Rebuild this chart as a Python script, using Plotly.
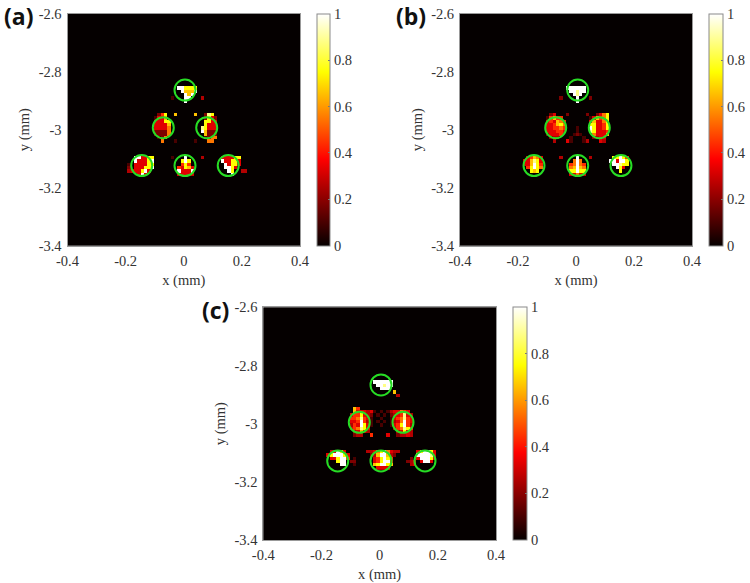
import numpy as np
import plotly.graph_objects as go

W, H = 750, 583
N = 70
ROW0 = 17

hot = [[0, "#050000"], [0.375, "#ff0000"], [0.75, "#ffff00"], [1, "#ffffff"]]
LEVELS = {".": 0, "1": .1, "2": .18, "3": .26, "4": .33, "5": .44, "6": .55, "7": .66, "8": .75, "9": .88, "W": 1}

ticks_x = [-0.4, -0.2, 0, 0.2, 0.4]
ticktext_x = ["-0.4", "-0.2", "0", "0.2", "0.4"]
ticks_y = [-3.4, -3.2, -3.0, -2.8, -2.6]
ticktext_y = ["-3.4", "-3.2", "-3", "-2.8", "-2.6"]
ticks_c = [0, 0.2, 0.4, 0.6, 0.8, 1]
ticktext_c = ["0", "0.2", "0.4", "0.6", "0.8", "1"]

# intensity maps (rows from top, first row index ROW0+5)
rows_a = [
    "." * 17 + "WW8888",
    "." * 18 + "W777W",
    "." * 19 + "W7W",
    "." * 15 + "1..." + "WW" + "..." + "3",
    "." * 19 + "W",
    "", "", "",
    "." * 11 + "258" + ".." + "7" + "....." + "7" + ".." + "298",
    "." * 10 + "1447" + "." * 11 + "2842",
    "." * 10 + "44488" + "." * 10 + "8844",
    "." * 10 + "44447" + "." * 10 + "8444",
    "." * 10 + "44446" + "." * 9 + "98444",
    "." * 10 + "22226" + "." * 9 + "W7222",
    "." * 10 + "22226" + "." * 10 + "7222",
    "." * 11 + "126" + "." * 11 + "1266",
    "." * 12 + "6..." + "1....." + "1..." + "66",
    "", "", "", "",
    "." * 4 + "WW4488" + "." * 5 + "1..." + "W" + "...." + "3" + "." * 5 + "444488",
    "." * 4 + "W4448W" + "." * 8 + "8W8" + "." * 9 + "W44884",
    "..1." + "444488" + "." * 8 + "585" + "." * 9 + ".W4884",
    "..2." + "44488W" + "." * 7 + "54874" + "." * 9 + "WW84",
    "..34" + "448W4" + "." * 8 + "W444W" + "." * 10 + "W8" + ".." + "33",
    "." * 5 + "4W4" + "." * 9 + "44444" + "." * 11 + "W",
]
rows_b = [
    "." * 17 + "WWWWWW",
    "." * 18 + "WW9WW",
    "." * 19 + "W9W",
    "." * 15 + "2" + "...." + "W" + "..." + "2",
    "." * 20 + "W",
    "", "", "",
    "." * 12 + "24" + "..." + "2" + "....." + "2" + ".." + "2468",
    "." * 11 + "15755" + "." * 8 + "147568",
    "." * 11 + "454765" + "." * 7 + "474468",
    "." * 11 + "445786" + "." * 7 + "884458",
    "." * 11 + "445565" + "..." + "1" + "..." + "W84458",
    "." * 11 + "444554" + "..." + "1" + "..." + "984445",
    "." * 11 + "24445" + "..." + "121" + "..." + "64447",
    "." * 12 + "233" + "..." + "1" + "..." + "1" + ".." + "2344",
    "." * 13 + "3" + "..." + "41" + "..." + "13" + "..." + "43",
    "", "", "", "",
    "." * 5 + "45764" + "." * 5 + "3" + "...." + "W" + "..." + "3" + "." * 6 + "88W85",
    "." * 4 + "447984" + "." * 9 + "6W6" + "." * 8 + "WW4WW8",
    "." * 4 + "447W85" + "." * 8 + "56W65" + "." * 8 + "WW988",
    "." * 5 + "58W86" + "." * 8 + "67W76" + "." * 9 + "W84",
    "." * 6 + "878" + "." * 9 + "88W88" + "." * 10 + "8",
    "." * 18 + "44644",
]
rows_c = [
    "." * 17 + "WWWWWW",
    "." * 18 + "WW9WW",
    "." * 19 + "WWW",
    "." * 23 + "7",
    "." * 24 + "3",
    "", "", "",
    "." * 11 + "75",
    "." * 11 + "744434" + "1.1.1" + "344654",
    "." * 10 + "455843" + "2" + ".1.1." + "2" + "345943",
    "." * 10 + "556954" + "1" + "..1.." + "1" + "456954",
    "." * 10 + "445W53" + "1" + ".1.1." + "1" + "346W54",
    "." * 10 + "354W84" + "1" + "..1.." + "1" + "458W53",
    "." * 10 + "456984" + "." * 7 + "356985",
    "." * 11 + "34743" + "." * 8 + "34843",
    "." * 11 + "233" + ".." + "5" + "...." + "4" + ".." + "23343",
    "", "", "", "",
    "." * 4 + "44W84" + "." * 6 + "33468W6433" + "." * 5 + "48WW84",
    "." * 3 + "48WWW84" + "." * 6 + "23" + "7WW7" + "32" + "." * 6 + "WWWW94",
    "." * 4 + "448WW5" + ".1" + "." * 5 + "458W85" + "." * 5 + "2." + "4WWW84",
    "." * 6 + "8WW" + ".22" + "." * 5 + "458WW5" + "." * 4 + "234." + "4WW4",
    "." * 7 + "WW" + "..1" + "." * 5 + "78WW87" + "." * 5 + "34",
    "." * 18 + "4444",
]

# circle centres (mm)
circ_x_a = [0.0043, -0.0704, 0.079, -0.1447, 0.0043, 0.153]
circ_y_a = [-2.8636, -2.9935, -2.9935, -3.124, -3.124, -3.124]
circ_x_b = [0.0059, -0.07, 0.0803, -0.1448, 0.0059, 0.155]
circ_y_b = [-2.8636, -2.9935, -2.9935, -3.124, -3.124, -3.124]
circ_x_c = [0.0046, -0.07, 0.0803, -0.1442, 0.0046, 0.1559]
circ_y_c = [-2.867, -2.9954, -2.9954, -3.128, -3.128, -3.128]

# pixel boxes: left, right, top, bottom, colorbar left, colorbar right
panels = [
    dict(rows=rows_a, col0=16, cx=circ_x_a, cy=circ_y_a, box=(67.5, 300, 13.5, 245.7), cb=(316.7, 330), sfx=""),
    dict(rows=rows_b, col0=15, cx=circ_x_b, cy=circ_y_b, box=(460, 692, 13.5, 245.7), cb=(708.5, 722), sfx="2"),
    dict(rows=rows_c, col0=16, cx=circ_x_c, cy=circ_y_c, box=(263.3, 496, 307.3, 540), cb=(512.8, 526.7), sfx="3"),
]
labels = [("(a)", 18, 16), ("(b)", 411, 16), ("(c)", 215, 310)]

fig = go.Figure()
layout = dict(
    width=W, height=H, margin=dict(l=0, r=0, t=0, b=0, autoexpand=False),
    paper_bgcolor="white", plot_bgcolor="#050000", showlegend=False,
    font=dict(family="Liberation Serif", size=14.5, color="#333333"),
)
dx = 0.8 / N
for p in panels:
    s = p["sfx"]
    L, R, T, B = p["box"]
    rows = [r.ljust(39, ".") for r in p["rows"]]
    z = np.array([[LEVELS[c] for c in r] for r in ["." * 39] * 5 + rows])
    xs = -0.4 + (p["col0"] + np.arange(z.shape[1]) + 0.5) * dx
    ys = -2.6 - (ROW0 + np.arange(z.shape[0]) + 0.5) * dx
    fig.add_trace(go.Heatmap(
        x=xs, y=ys, z=z, xaxis="x" + s, yaxis="y" + s, zmin=0, zmax=1, colorscale=hot, zsmooth=False,
        colorbar=dict(
            x=p["cb"][0] / W, xanchor="left", xpad=0, ypad=0,
            y=1 - B / H, yanchor="bottom", len=(B - T) / H, lenmode="fraction",
            thickness=p["cb"][1] - p["cb"][0], thicknessmode="pixels",
            outlinecolor="#8a8a8a", outlinewidth=1,
            tickvals=ticks_c, ticktext=ticktext_c, ticks="inside", ticklen=2, tickcolor="#777777",
            tickfont=dict(family="Liberation Serif", size=14.5, color="#333333"),
        ),
    ))
    fig.add_trace(go.Scatter(
        x=p["cx"], y=p["cy"], xaxis="x" + s, yaxis="y" + s, mode="markers", hoverinfo="skip",
        marker=dict(symbol="circle-open", size=21, color="#27dc24", line=dict(width=2, color="#27dc24")),
    ))
    layout["xaxis" + s] = dict(
        domain=[L / W, R / W], range=[-0.4, 0.4], anchor="y" + s, tickvals=ticks_x, ticktext=ticktext_x,
        ticks="", showgrid=False, zeroline=False, showline=True, linecolor="#999999", linewidth=1, mirror=True,
        ticklabelstandoff=2, automargin=False, title=dict(text="x (mm)", standoff=6, font=dict(size=14.5)),
    )
    layout["yaxis" + s] = dict(
        domain=[1 - B / H, 1 - T / H], range=[-3.4, -2.6], anchor="x" + s, tickvals=ticks_y, ticktext=ticktext_y,
        ticks="", showgrid=False, zeroline=False, showline=True, linecolor="#999999", linewidth=1, mirror=True,
        ticklabelstandoff=2, automargin=False, title=dict(text="y (mm)", standoff=5, font=dict(size=14.5)),
    )
layout["annotations"] = [
    dict(text=t, x=x / W, y=1 - y / H, xref="paper", yref="paper", showarrow=False, xanchor="center", yanchor="middle",
         font=dict(family="Open Sans", size=23, color="#111111", weight="bold"))
    for t, x, y in labels
]
fig.update_layout(**layout)
fig.write_html("out.html", config={"displayModeBar": False},
               post_script="document.body.style.margin='0';document.body.style.overflow='hidden';")
